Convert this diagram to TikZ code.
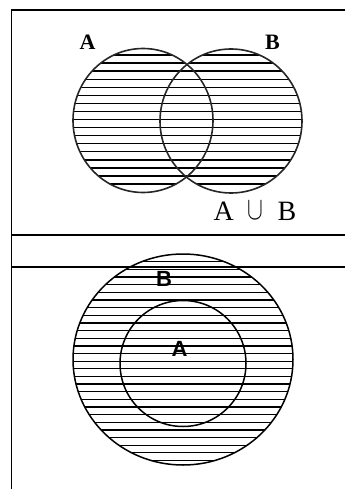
\documentclass[tikz,border=0pt]{standalone}
\usepackage{fontspec}
\setmainfont{Liberation Serif}
\newfontfamily\labelsans{Liberation Sans}
\usetikzlibrary{positioning}

\begin{document}
\begin{tikzpicture}[x=1pt,y=-1pt,
  frame/.style={line width=1.8pt},
  setline/.style={line width=1.6pt, black!85},
  hatch/.style={line width=1.3pt}]
\useasboundingbox (0,0) rectangle (345,489);

% Frame
\draw [frame] (345,10) -- (11.5,10) -- (11.5,489);
\draw [frame] (11.5,235) -- (345,235);
\draw [frame] (11.5,267) -- (345,267);

% Union: hatching
\begin{scope}
\clip (143,120.5) ellipse (70 and 72) (231,121) ellipse (71 and 72);
\foreach \y in {55,63.07,...,194} \draw [hatch] (60,\y) -- (310,\y);
\end{scope}

% Union: circles
\draw [setline] (143,120.5) ellipse (70 and 72);
\draw [setline] (231,121) ellipse (71 and 72);

% Subset: hatching
\begin{scope}
\clip (183,359.5) ellipse (110 and 105.5);
\foreach \y in {254.2,261.84,...,466} \draw [hatch] (60,\y) -- (300,\y);
\end{scope}

% Subset: circles
\draw [line width=1.5pt] (183,359.5) ellipse (110 and 105.5);
\draw [line width=1.5pt] (183,363.5) circle (63);

% Labels
\node (labA) at (87.5,42.5) {\fontsize{22}{22}\selectfont\bfseries A};
\node (labB) at (272.5,42.5) {\fontsize{22}{22}\selectfont\bfseries B};
\node (union) at (255,211) {\fontsize{28}{28}\selectfont A\enspace\raisebox{0.5pt}{\scalebox{0.95}[1.3]{$\cup$}}\enspace B};
\node (labouter) at (164,278.5) {\fontsize{22}{22}\selectfont\labelsans\bfseries B};
\node (labinner) at (179.5,349) {\fontsize{22}{22}\selectfont\labelsans\bfseries A};

\end{tikzpicture}
\end{document}
